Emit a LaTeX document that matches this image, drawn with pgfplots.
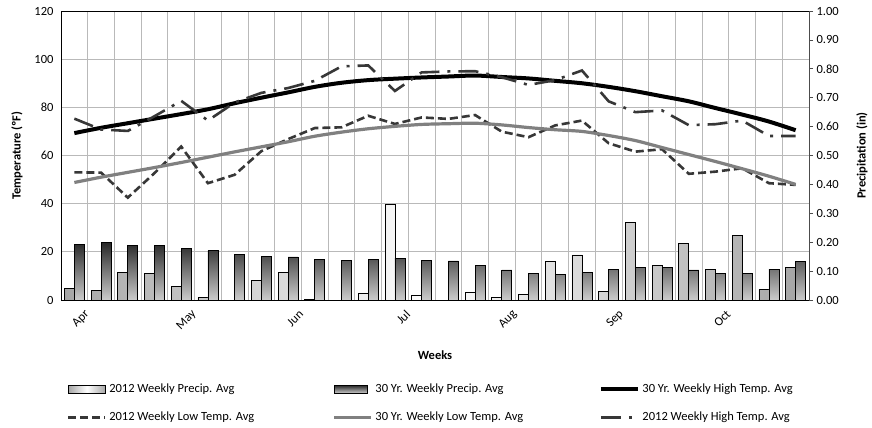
\documentclass[border=0pt]{standalone}
\usepackage{fontspec}
\setmainfont{Carlito}
\usepackage{pgfplots}
\pgfplotsset{compat=1.18}
\definecolor{gridc}{RGB}{185,185,185}
\definecolor{lowgray}{RGB}{128,128,128}
\definecolor{dkgray}{RGB}{55,55,55}
\tikzset{
  lightbar/.style={draw=black, line width=0.7bp, left color=black!35, right color=black!35, middle color=white},
  darkbar/.style={draw=black, line width=0.7bp, top color=black!85, bottom color=black!20},
}
\pgfplotsset{
  base/.style={
    scale only axis, width=748bp, height=289bp,
    xmin=-0.5, xmax=27.5,
    /pgf/number format/assume math mode=true,
    tick label style={font=\fontsize{12.5bp}{14bp}\selectfont},
    label style={font=\bfseries\fontsize{12.5bp}{14bp}\selectfont},
    at={(0,0)}, anchor=south west,
  },
}
\begin{document}
\begin{tikzpicture}
\useasboundingbox (-61bp,-128bp) rectangle (811bp,300bp);
% ---- Axis A: frame, grid, left axis, month labels
\begin{axis}[base,
  ymin=0, ymax=120, ytick={0,20,40,60,80,100,120},
  ymajorgrids, xmajorgrids=false,
  xtick={0,4,8,12,16,20,24},
  xticklabels={Apr,May,Jun,Jul,Aug,Sep,Oct},
  minor xtick={0.5,1.5,...,26.5}, xminorgrids,
  grid style={gridc, line width=0.9bp},
  major grid style={gridc, line width=0.9bp},
  minor grid style={gridc, line width=0.9bp},
  major tick length=0pt, minor tick length=0pt,
  axis line style={black, line width=0.8bp},
  yticklabel style={xshift=-4bp},
  xticklabel style={rotate=45, anchor=east, xshift=4bp, yshift=-18bp},
  xlabel={Weeks},
  xlabel style={at={(axis description cs:0.5,0)}, anchor=center, yshift=-55bp},
  ylabel={Temperature (ºF)},
  ylabel style={at={(axis description cs:-0.0588,0.5)}, anchor=center},
]
\addplot[draw=none, forget plot] coordinates {(0,0)};
\end{axis}
% ---- Axis B: precipitation bars, right axis
\begin{axis}[base,
  ymin=0, ymax=1,
  axis y line*=right, axis x line=none,
  xtick=\empty, xticklabels={},
  ytick={0,0.1,0.2,0.3,0.4,0.5,0.6,0.7,0.8,0.9,1.0},
  yticklabel style={/pgf/number format/.cd, fixed, fixed zerofill, precision=2},
  tick align=outside, major tick length=4bp,
  tick style={black!70, line width=0.7bp},
  axis line style={black!70, line width=0.8bp},
  ylabel={Precipitation (in)},
  ylabel style={at={(axis description cs:1.0709,0.5)}, anchor=center},
  ybar=0pt, bar width=10bp,
]
\addplot[lightbar] coordinates {
(0,0.040) (1,0.033) (2,0.096) (3,0.092) (4,0.048) (5,0.008) (6,0) (7,0.068)
(8,0.096) (9,0.003) (10,0) (11,0.023) (12,0.331) (13,0.017) (14,0) (15,0.027)
(16,0.009) (17,0.020) (18,0.133) (19,0.156) (20,0.030) (21,0.268) (22,0.119)
(23,0.196) (24,0.107) (25,0.223) (26,0.037) (27,0.112)};
\addplot[darkbar] coordinates {
(0,0.193) (1,0.200) (2,0.189) (3,0.189) (4,0.179) (5,0.171) (6,0.159) (7,0.152)
(8,0.149) (9,0.141) (10,0.137) (11,0.141) (12,0.145) (13,0.137) (14,0.135) (15,0.119)
(16,0.104) (17,0.092) (18,0.089) (19,0.096) (20,0.107) (21,0.112) (22,0.112)
(23,0.104) (24,0.092) (25,0.092) (26,0.107) (27,0.134)};
\end{axis}
% ---- Axis C: temperature lines and legend
\begin{axis}[base,
  ymin=0, ymax=120, hide axis,
  xtick=\empty, ytick=\empty,
  legend columns=3,
  legend image code/.code={\draw[#1] (0bp,0bp) -- (37bp,0bp);},
  legend style={draw=none, fill=none, inner sep=0pt,
    at={(0,0)}, anchor=north west, xshift=6bp, yshift=-75bp,
    font=\fontsize{12.5bp}{14bp}\selectfont,
    nodes={inner sep=2.5bp, minimum height=28bp},
    cells={anchor=west}},
]
\addlegendimage{legend image code/.code={\draw[lightbar] (0bp,-4bp) rectangle (37bp,4bp);}}
\addlegendentry{\makebox[221bp][l]{2012 Weekly Precip. Avg}}
\addlegendimage{legend image code/.code={\draw[darkbar] (0bp,-4bp) rectangle (33bp,4bp);}}
\addlegendentry{\makebox[221bp][l]{30 Yr. Weekly Precip. Avg}}
\addplot[black, line width=4bp, smooth] coordinates {
(0,69.3) (1,71.5) (2,73.4) (3,75.3) (4,77.2) (5,79.2) (6,81.7) (7,84.0) (8,86.2)
(9,88.5) (10,90.2) (11,91.3) (12,91.9) (13,92.4) (14,92.8) (15,93.2) (16,92.6)
(17,92.0) (18,91.0) (19,90.0) (20,88.5) (21,86.7) (22,84.6) (23,82.5) (24,79.7)
(25,77.0) (26,74.1) (27,70.5)};
\addlegendentry{30 Yr. Weekly High Temp. Avg}
\addplot[dkgray, line width=2.6bp, dash pattern=on 8bp off 4bp] coordinates {
(0,53.0) (1,52.9) (2,42.5) (3,52.7) (4,63.7) (5,48.5) (6,52.0) (7,61.8) (8,66.8)
(9,71.4) (10,71.7) (11,76.5) (12,73.1) (13,75.8) (14,75.2) (15,76.8) (16,69.9)
(17,67.6) (18,72.5) (19,74.5) (20,65.1) (21,61.6) (22,62.6) (23,52.4) (24,53.3)
(25,54.7) (26,48.5) (27,47.8)};
\addlegendentry{2012 Weekly Low Temp. Avg}
\addplot[lowgray, line width=3.2bp, smooth] coordinates {
(0,48.8) (1,51.0) (2,53.0) (3,55.0) (4,57.1) (5,59.3) (6,61.5) (7,63.6) (8,65.7)
(9,68.0) (10,69.7) (11,71.1) (12,72.1) (13,72.9) (14,73.2) (15,73.4) (16,72.7)
(17,71.6) (18,70.7) (19,70.0) (20,68.3) (21,66.2) (22,63.3) (23,60.4) (24,57.5)
(25,54.5) (26,51.4) (27,48.0)};
\addlegendentry{30 Yr. Weekly Low Temp. Avg}
\addplot[dkgray, line width=2.6bp, dash pattern=on 20bp off 8bp on 3bp off 8bp] coordinates {
(0,75.3) (1,70.8) (2,70.2) (3,76.3) (4,82.7) (5,74.5) (6,82.0) (7,86.0) (8,88.0)
(9,91.0) (10,97.0) (11,97.4) (12,86.8) (13,94.5) (14,94.9) (15,95.0) (16,92.5)
(17,89.3) (18,91.3) (19,95.3) (20,82.5) (21,78.0) (22,78.7) (23,72.6) (24,73.0)
(25,74.5) (26,68.1) (27,68.1)};
\addlegendentry{2012 Weekly High Temp. Avg}
\end{axis}
\end{tikzpicture}
\end{document}
